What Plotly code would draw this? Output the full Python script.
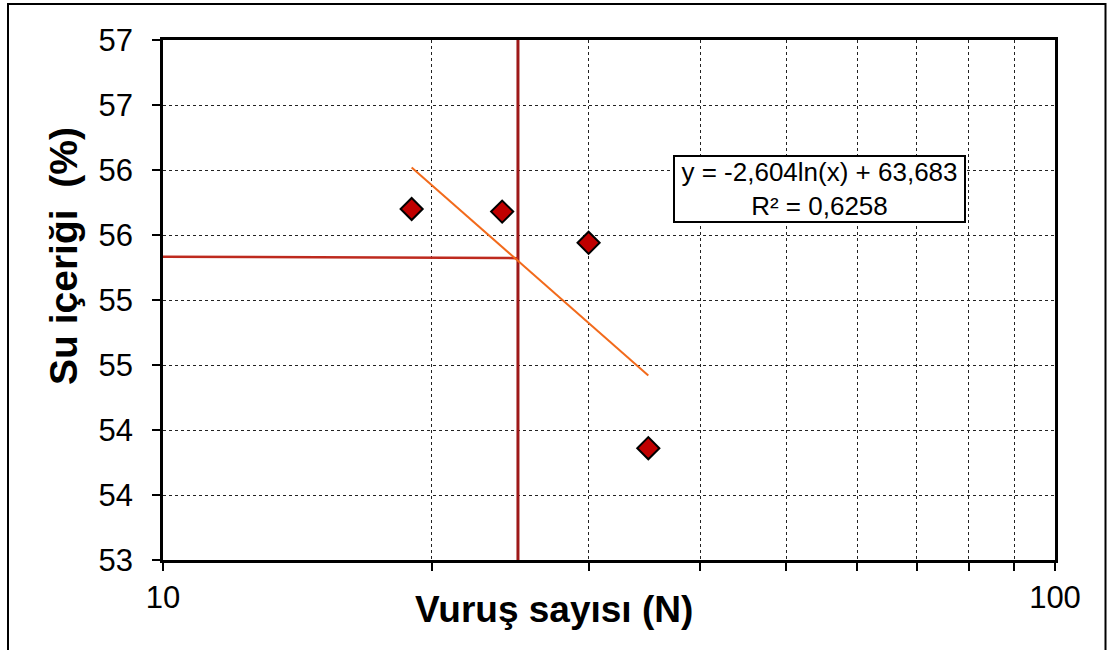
import plotly.graph_objects as go

# ---- data ----
blows = [19, 24, 30, 35]                     # Vuruş sayısı (N)
water = [55.70, 55.68, 55.44, 53.86]         # Su içeriği (%)
trend_x = [19, 35]
trend_y = [56.02, 54.42]                     # y = -2,604ln(x) + 63,683
ll_x = [25, 25]                              # vertical line at N = 25
ll_y = [53, 57]
hz_x = [10, 25]                              # horizontal line to the y axis
hz_y = [55.333, 55.322]
x_tick_vals = [10, 20, 30, 40, 50, 60, 70, 80, 90, 100]
x_tick_text = ["10", "", "", "", "", "", "", "", "", "100"]
y_tick_vals = [53, 53.5, 54, 54.5, 55, 55.5, 56, 56.5, 57]
y_tick_text = ["53", "54", "54", "55", "55", "56", "56", "57", "57"]
eq_text = "y = -2,604ln(x) + 63,683<br>R² = 0,6258"
x_title = "Vuruş sayısı (N)"
y_title = "Su içeriği\u00a0\u00a0(%)"

FONT = "Arial, 'Liberation Sans', sans-serif"
W, H = 1107, 650
L, R, T, B = 163, 1055, 40, 560   # plot area in window pixels


def px(xp):
    return (xp - L) / (R - L)


def py(yp):
    return (B - yp) / (B - T)


fig = go.Figure()
fig.add_trace(go.Scatter(x=ll_x, y=ll_y, mode="lines",
                         line=dict(color="#9E1818", width=3), showlegend=False))
fig.add_trace(go.Scatter(x=hz_x, y=hz_y, mode="lines",
                         line=dict(color="#BE2A1E", width=2.5), showlegend=False))
fig.add_trace(go.Scatter(x=trend_x, y=trend_y, mode="lines",
                         line=dict(color="#F26A1B", width=2), showlegend=False))
fig.add_trace(go.Scatter(x=blows, y=water, mode="markers",
                         marker=dict(symbol="diamond", size=17, color="#C00000",
                                     line=dict(color="black", width=2)),
                         showlegend=False))

fig.update_xaxes(type="log", range=[1, 2], tickvals=x_tick_vals, ticktext=x_tick_text,
                 showgrid=True, gridcolor="#222222", griddash="dot", gridwidth=1,
                 showline=True, linecolor="black", linewidth=2.5, mirror=True,
                 ticks="outside", ticklen=8, tickcolor="black", tickwidth=1.5,
                 ticklabelstandoff=0,
                 tickfont=dict(family=FONT, size=31, color="black"), zeroline=False)
fig.update_yaxes(range=[53, 57], tickvals=y_tick_vals, ticktext=y_tick_text,
                 showgrid=True, gridcolor="#222222", griddash="dot", gridwidth=1,
                 showline=True, linecolor="black", linewidth=2.5, mirror=True,
                 ticks="outside", ticklen=8, tickcolor="black", tickwidth=1.5,
                 ticklabelstandoff=13,
                 tickfont=dict(family=FONT, size=31, color="black"), zeroline=False)

fig.add_annotation(xref="paper", yref="paper", x=px(819), y=py(189),
                   text=eq_text, showarrow=False, xanchor="center", yanchor="middle",
                   font=dict(family=FONT, size=26, color="black"), align="center",
                   bgcolor="white", bordercolor="black", borderwidth=2, borderpad=2,
                   width=285, height=60)
fig.add_annotation(xref="paper", yref="paper", x=px(554), y=py(609),
                   text="<b>" + x_title + "</b>", showarrow=False,
                   xanchor="center", yanchor="middle",
                   font=dict(family=FONT, size=37, color="black"))
fig.add_annotation(xref="paper", yref="paper", x=px(64), y=py(256),
                   text="<b>" + y_title + "</b>", showarrow=False, textangle=-90,
                   xanchor="center", yanchor="middle",
                   font=dict(family=FONT, size=39, color="black"))

fig.add_shape(type="rect", xref="paper", yref="paper",
              x0=px(8), x1=px(1105.5), y0=py(660), y1=py(4),
              line=dict(color="black", width=2), layer="below")

fig.update_layout(width=W, height=H, plot_bgcolor="white", paper_bgcolor="white",
                  margin=dict(l=L, r=W - R, t=T, b=H - B),
                  font=dict(family=FONT, color="black"))

fig.write_html("out.html", config={"displayModeBar": False},
               post_script="document.body.style.margin='0';"
                           "document.body.style.overflow='hidden';")
